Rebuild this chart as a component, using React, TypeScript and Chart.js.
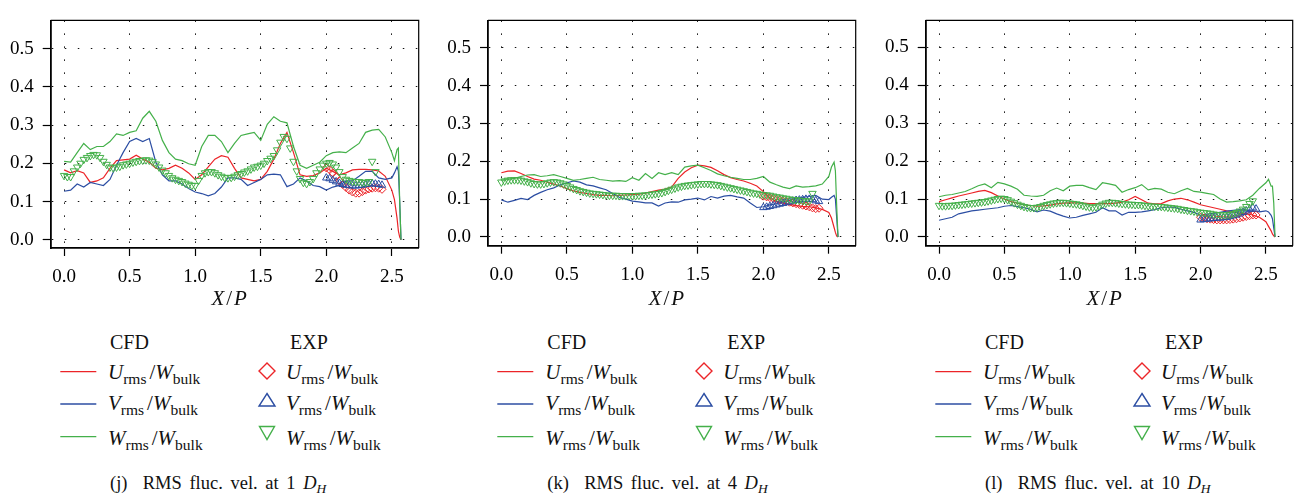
import React, { useEffect, useRef } from "react";
import { Chart, registerables } from "chart.js";

Chart.register(...registerables);

// ---------- shared axes ----------
const X_TICKS = [0, 0.5, 1.0, 1.5, 2.0, 2.5];
const Y_TICKS = [0, 0.1, 0.2, 0.3, 0.4, 0.5];

// x positions of the CFD curves
const X_CFD = [
  0, 0.05, 0.1, 0.15, 0.2, 0.25, 0.3, 0.35, 0.4, 0.45, 0.5, 0.55, 0.6, 0.65, 0.7, 0.75, 0.8, 0.85, 0.9, 0.95,
  1.0, 1.05, 1.1, 1.15, 1.2, 1.25, 1.3, 1.35, 1.4, 1.45, 1.5, 1.55, 1.6, 1.65, 1.7, 1.75, 1.8, 1.85, 1.9, 1.95,
  2.0, 2.05, 2.1, 2.15, 2.2, 2.25, 2.3, 2.35, 2.4, 2.45, 2.5, 2.52, 2.54, 2.55, 2.56, 2.57,
];

// x positions of the EXP W markers
const X_EXP_W = [
  0, 0.025, 0.05, 0.075, 0.1, 0.125, 0.15, 0.175, 0.2, 0.225,
  0.25, 0.275, 0.3, 0.325, 0.35, 0.375, 0.4, 0.425, 0.45, 0.475,
  0.5, 0.525, 0.55, 0.575, 0.6, 0.625, 0.65, 0.675, 0.7, 0.725,
  0.75, 0.775, 0.8, 0.825, 0.85, 0.875, 0.9, 0.925, 0.95, 0.975,
  1.0, 1.025, 1.05, 1.075, 1.1, 1.125, 1.15, 1.175, 1.2, 1.225,
  1.25, 1.275, 1.3, 1.325, 1.35, 1.375, 1.4, 1.425, 1.45, 1.475,
  1.5, 1.525, 1.55, 1.575, 1.6, 1.625, 1.65, 1.675, 1.7, 1.725,
  1.75, 1.775, 1.8, 1.825, 1.85, 1.875, 1.9, 1.925, 1.95, 1.975,
  2.0, 2.025, 2.05, 2.075, 2.1, 2.125, 2.15, 2.175, 2.2, 2.225,
  2.25, 2.275, 2.3, 2.325, 2.35, 2.375, 2.4,
];

// x positions of the EXP U and V markers
const X_EXP_UV = [
  2.0, 2.025, 2.05, 2.075, 2.1, 2.125, 2.15, 2.175, 2.2, 2.225, 2.25, 2.275, 2.3, 2.325, 2.35, 2.375, 2.4, 2.425,
];

// ---------- panel (j): 1 D_H ----------
const J_CFD_U = [
  0.183, 0.175, 0.181, 0.175, 0.15, 0.154, 0.162, 0.187, 0.207, 0.209, 0.211, 0.221, 0.211, 0.203, 0.187, 0.183, 0.187, 0.195, 0.187, 0.175,
  0.158, 0.17, 0.191, 0.211, 0.22, 0.216, 0.187, 0.162, 0.158, 0.154, 0.158, 0.179, 0.211, 0.252, 0.281, 0.228, 0.17, 0.166, 0.168, 0.175,
  0.187, 0.179, 0.17, 0.175, 0.183, 0.184, 0.184, 0.183, 0.18, 0.166, 0.13, 0.105, 0.056, 0.023, 0.007, 0,
];
const J_CFD_V = [
  0.127, 0.13, 0.146, 0.138, 0.15, 0.146, 0.142, 0.158, 0.195, 0.228, 0.257, 0.265, 0.257, 0.265, 0.203, 0.17, 0.154, 0.154, 0.146, 0.134,
  0.125, 0.121, 0.115, 0.121, 0.138, 0.162, 0.162, 0.158, 0.142, 0.15, 0.158, 0.17, 0.172, 0.17, 0.139, 0.146, 0.162, 0.154, 0.142, 0.139,
  0.13, 0.138, 0.142, 0.154, 0.154, 0.166, 0.179, 0.179, 0.162, 0.158, 0.162, 0.175, 0.191, 0.18, 0.1, 0,
];
const J_CFD_W = [
  0.205, 0.203, 0.228, 0.252, 0.236, 0.244, 0.244, 0.257, 0.277, 0.273, 0.281, 0.285, 0.318, 0.336, 0.31, 0.26, 0.228, 0.211, 0.207, 0.199,
  0.195, 0.244, 0.273, 0.273, 0.257, 0.228, 0.252, 0.273, 0.277, 0.281, 0.26, 0.302, 0.322, 0.31, 0.306, 0.244, 0.195, 0.187, 0.195, 0.203,
  0.22, 0.228, 0.23, 0.228, 0.24, 0.252, 0.281, 0.287, 0.289, 0.269, 0.228, 0.207, 0.236, 0.24, 0.1, 0,
];
const J_EXP_U = [0.188, 0.183, 0.175, 0.165, 0.155, 0.145, 0.137, 0.13, 0.125, 0.122, 0.122, 0.126, 0.13, 0.133, 0.135, 0.136, 0.135, 0.132];
const J_EXP_V = [0.162, 0.16, 0.156, 0.152, 0.148, 0.145, 0.143, 0.142, 0.141, 0.141, 0.142, 0.143, 0.145, 0.146, 0.147, 0.146, 0.145, 0.143];
const J_EXP_W = [
  0.168, 0.165, 0.165, 0.18, 0.19, 0.2, 0.21, 0.215, 0.22, 0.223,
  0.222, 0.215, 0.205, 0.197, 0.19, 0.188, 0.19, 0.192, 0.196, 0.198,
  0.2, 0.203, 0.205, 0.207, 0.208, 0.209, 0.208, 0.204, 0.198, 0.19,
  0.182, 0.175, 0.168, 0.162, 0.158, 0.155, 0.152, 0.148, 0.145, 0.142,
  0.142, 0.155, 0.168, 0.175, 0.178, 0.178, 0.175, 0.17, 0.166, 0.163,
  0.162, 0.163, 0.166, 0.17, 0.173, 0.177, 0.18, 0.185, 0.19, 0.192,
  0.195, 0.2, 0.207, 0.213, 0.22, 0.235, 0.255, 0.27, 0.265, 0.24,
  0.205, 0.18, 0.16, 0.15, 0.147, 0.152, 0.16, 0.175, 0.185, 0.195,
  0.2, 0.202, 0.198, 0.19, 0.178, 0.165, 0.158, 0.155, 0.153, 0.152,
  0.152, 0.15, 0.15, 0.152, 0.205, 0.178, null,
];

// ---------- panel (k): 4 D_H ----------
const K_CFD_U = [
  0.17, 0.174, 0.175, 0.168, 0.16, 0.153, 0.15, 0.145, 0.14, 0.135, 0.128, 0.122, 0.118, 0.115, 0.112, 0.11, 0.11, 0.109, 0.11, 0.111,
  0.112, 0.113, 0.116, 0.12, 0.124, 0.127, 0.132, 0.155, 0.172, 0.183, 0.19, 0.188, 0.184, 0.175, 0.165, 0.157, 0.152, 0.148, 0.142, 0.135,
  0.12, 0.103, 0.094, 0.09, 0.086, 0.083, 0.081, 0.08, 0.077, 0.073, 0.065, 0.05, 0.025, 0.012, 0.002, 0,
];
const K_CFD_V = [
  0.098, 0.092, 0.097, 0.102, 0.099, 0.11, 0.118, 0.125, 0.13, 0.138, 0.143, 0.148, 0.145, 0.138, 0.135, 0.13, 0.125, 0.115, 0.105, 0.1,
  0.095, 0.093, 0.09, 0.09, 0.082, 0.09, 0.093, 0.092, 0.098, 0.1, 0.103, 0.098, 0.107, 0.103, 0.108, 0.11, 0.106, 0.103, 0.09, 0.078,
  0.08, 0.085, 0.088, 0.093, 0.097, 0.102, 0.105, 0.107, 0.11, 0.1, 0.099, 0.105, 0.11, 0.1, 0.05, 0,
];
const K_CFD_W = [
  0.15, 0.152, 0.155, 0.16, 0.164, 0.165, 0.16, 0.162, 0.165, 0.16, 0.155, 0.15, 0.152, 0.155, 0.158, 0.152, 0.15, 0.148, 0.149, 0.147,
  0.157, 0.15, 0.168, 0.155, 0.17, 0.165, 0.17, 0.165, 0.185, 0.188, 0.19, 0.183, 0.176, 0.167, 0.162, 0.158, 0.155, 0.152, 0.152, 0.155,
  0.16, 0.145, 0.138, 0.132, 0.128, 0.135, 0.132, 0.133, 0.135, 0.14, 0.16, 0.185, 0.198, 0.175, 0.08, 0,
];
const K_EXP_U = [0.108, 0.106, 0.104, 0.102, 0.1, 0.098, 0.096, 0.094, 0.092, 0.09, 0.088, 0.086, 0.084, 0.082, 0.08, 0.077, 0.075, 0.076];
const K_EXP_V = [0.078, 0.079, 0.081, 0.083, 0.085, 0.087, 0.089, 0.091, 0.093, 0.095, 0.097, 0.098, 0.099, 0.1, 0.1, 0.099, 0.096, 0.094];
const K_EXP_W = [
  0.145, 0.148, 0.15, 0.151, 0.151, 0.151, 0.15, 0.148, 0.146, 0.143,
  0.141, 0.14, 0.14, 0.141, 0.143, 0.145, 0.146, 0.145, 0.143, 0.14,
  0.136, 0.132, 0.128, 0.125, 0.122, 0.12, 0.118, 0.116, 0.115, 0.114,
  0.113, 0.112, 0.111, 0.11, 0.11, 0.11, 0.109, 0.109, 0.109, 0.109,
  0.109, 0.109, 0.11, 0.11, 0.111, 0.112, 0.113, 0.114, 0.115, 0.117,
  0.12, 0.123, 0.126, 0.129, 0.132, 0.134, 0.136, 0.137, 0.138, 0.139,
  0.14, 0.141, 0.141, 0.141, 0.14, 0.139, 0.138, 0.136, 0.134, 0.132,
  0.13, 0.128, 0.126, 0.124, 0.122, 0.12, 0.118, 0.116, 0.115, 0.113,
  0.112, 0.111, 0.11, 0.108, 0.106, 0.105, 0.103, 0.102, 0.1, 0.099,
  0.098, 0.097, 0.096, 0.095, 0.095, 0.115, null,
];

// ---------- panel (l): 10 D_H ----------
const L_CFD_U = [
  0.093, 0.098, 0.103, 0.108, 0.112, 0.116, 0.12, 0.123, 0.117, 0.108, 0.1, 0.093, 0.089, 0.085, 0.083, 0.081, 0.082, 0.084, 0.087, 0.089,
  0.09, 0.09, 0.089, 0.088, 0.088, 0.088, 0.088, 0.089, 0.092, 0.098, 0.107, 0.098, 0.089, 0.087, 0.088, 0.095, 0.1, 0.102, 0.098, 0.092,
  0.085, 0.081, 0.077, 0.073, 0.069, 0.066, 0.063, 0.061, 0.058, 0.052, 0.04, 0.028, 0.016, 0.008, 0.003, 0,
];
const L_CFD_V = [
  0.044, 0.048, 0.052, 0.061, 0.065, 0.069, 0.071, 0.073, 0.075, 0.077, 0.081, 0.083, 0.08, 0.077, 0.073, 0.066, 0.071, 0.068, 0.061, 0.055,
  0.05, 0.052, 0.057, 0.061, 0.065, 0.077, 0.069, 0.069, 0.058, 0.065, 0.065, 0.066, 0.069, 0.072, 0.077, 0.079, 0.078, 0.073, 0.069, 0.065,
  0.057, 0.06, 0.062, 0.065, 0.068, 0.07, 0.072, 0.07, 0.068, 0.066, 0.069, 0.066, 0.057, 0.048, 0.024, 0,
];
const L_CFD_W = [
  0.106, 0.11, 0.112, 0.116, 0.12, 0.127, 0.135, 0.14, 0.13, 0.144, 0.14, 0.134, 0.126, 0.11, 0.108, 0.107, 0.11, 0.122, 0.129, 0.122,
  0.134, 0.136, 0.136, 0.13, 0.125, 0.143, 0.14, 0.136, 0.118, 0.125, 0.13, 0.138, 0.124, 0.128, 0.126, 0.118, 0.114, 0.122, 0.128, 0.12,
  0.118, 0.115, 0.112, 0.1, 0.092, 0.093, 0.095, 0.098, 0.11, 0.128, 0.143, 0.152, 0.134, 0.134, 0.09, 0,
];
const L_EXP_U = [0.052, 0.05, 0.048, 0.047, 0.046, 0.045, 0.045, 0.045, 0.045, 0.046, 0.047, 0.048, 0.05, 0.052, 0.054, 0.056, 0.058, 0.058];
const L_EXP_V = [0.045, 0.046, 0.047, 0.048, 0.049, 0.05, 0.05, 0.051, 0.052, 0.054, 0.056, 0.058, 0.061, 0.065, 0.069, 0.073, 0.077, 0.074];
const L_EXP_W = [
  0.083, 0.082, 0.082, 0.083, 0.083, 0.084, 0.085, 0.086, 0.087, 0.088,
  0.089, 0.09, 0.091, 0.092, 0.093, 0.095, 0.097, 0.099, 0.101, 0.102,
  0.101, 0.098, 0.094, 0.09, 0.086, 0.083, 0.08, 0.078, 0.077, 0.077,
  0.078, 0.08, 0.083, 0.085, 0.087, 0.089, 0.09, 0.091, 0.091, 0.09,
  0.089, 0.088, 0.087, 0.085, 0.083, 0.081, 0.079, 0.078, 0.079, 0.082,
  0.086, 0.089, 0.091, 0.091, 0.09, 0.089, 0.088, 0.087, 0.086, 0.086,
  0.085, 0.085, 0.084, 0.083, 0.082, 0.081, 0.081, 0.08, 0.08, 0.079,
  0.078, 0.077, 0.076, 0.075, 0.073, 0.072, 0.07, 0.069, 0.068, 0.066,
  0.065, 0.064, 0.063, 0.062, 0.06, 0.059, 0.058, 0.058, 0.058, 0.059,
  0.061, 0.064, 0.068, 0.073, 0.08, 0.088, 0.095,
];

// ---------- styling ----------
const RED = "#ec2428";
const BLUE = "#2c4ea3";
const GREEN = "#44b04a";
const SERIF = "'Liberation Serif', 'Times New Roman', serif";

type PanelGeom = {
  canvasLeft: number;
  areaLeft: number;
  areaRight: number;
  areaTop: number;
  areaBottom: number;
  yMin: number;
  yMax: number;
  letter: string;
  dist: string;
  cfd: (number | null)[][];
  exp: (number | null)[][];
};

const CANVAS_H = 290;
const X_MIN = -0.102;
const X_MAX = 2.705;

const PANELS: PanelGeom[] = [
  {
    canvasLeft: 0, areaLeft: 50.7, areaRight: 421.7, areaTop: 6, areaBottom: 248,
    yMin: -0.0214, yMax: 0.5738, letter: "(j)", dist: "1",
    cfd: [J_CFD_U, J_CFD_V, J_CFD_W], exp: [J_EXP_U, J_EXP_V, J_EXP_W],
  },
  {
    canvasLeft: 437, areaLeft: 488, areaRight: 859, areaTop: 3.3, areaBottom: 245.7,
    yMin: -0.0231, yMax: 0.573, letter: "(k)", dist: "4",
    cfd: [K_CFD_U, K_CFD_V, K_CFD_W], exp: [K_EXP_U, K_EXP_V, K_EXP_W],
  },
  {
    canvasLeft: 875, areaLeft: 925.7, areaRight: 1296, areaTop: 4, areaBottom: 245.7,
    yMin: -0.0231, yMax: 0.5713, letter: "(l)", dist: "10",
    cfd: [L_CFD_U, L_CFD_V, L_CFD_W], exp: [L_EXP_U, L_EXP_V, L_EXP_W],
  },
];

function pts(xs: number[], ys: (number | null)[]) {
  return xs.map((x, i) => ({ x, y: ys[i] }));
}

const boxPlugin = {
  id: "boxFrame",
  afterDraw(chart: any) {
    const { ctx, chartArea } = chart;
    ctx.save();
    ctx.strokeStyle = "#000";
    ctx.lineWidth = 1.2;
    ctx.setLineDash([]);
    ctx.beginPath();
    ctx.moveTo(chartArea.left, chartArea.top);
    ctx.lineTo(chartArea.right, chartArea.top);
    ctx.lineTo(chartArea.right, chartArea.bottom);
    ctx.stroke();
    ctx.restore();
  },
};

function PanelChart({ g }: { g: PanelGeom }) {
  const ref = useRef<HTMLCanvasElement>(null);
  const width = Math.round(g.areaRight + 2.3 - g.canvasLeft);
  useEffect(() => {
    const colors = [RED, BLUE, GREEN];
    const lineSets = g.cfd.map((ys, i) => ({
      data: pts(X_CFD, ys),
      showLine: true,
      borderColor: colors[i],
      borderWidth: 1.2,
      pointRadius: 0,
      fill: false,
      tension: 0,
      order: 5 - i,
    }));
    const markerSets = [
      { data: pts(X_EXP_UV, g.exp[0]), pointStyle: "rectRot", pointRadius: 4, pointRotation: 0, color: RED, order: 2 },
      { data: pts(X_EXP_UV, g.exp[1]), pointStyle: "triangle", pointRadius: 4.3, pointRotation: 0, color: BLUE, order: 1 },
      { data: pts(X_EXP_W, g.exp[2]), pointStyle: "triangle", pointRadius: 4.3, pointRotation: 180, color: GREEN, order: 0 },
    ].map((m) => ({
      data: m.data,
      showLine: false,
      pointStyle: m.pointStyle,
      pointRadius: m.pointRadius,
      pointRotation: m.pointRotation,
      pointBorderColor: m.color,
      pointBackgroundColor: "rgba(255,255,255,0)",
      pointBorderWidth: 1,
      borderColor: m.color,
      backgroundColor: "rgba(255,255,255,0)",
      order: m.order,
    }));
    const tickFont = { family: SERIF, size: 19 };
    const gridBase = {
      color: "#111",
      lineWidth: 1,
      tickBorderDash: [],
      tickLength: 8,
      tickColor: "#000",
      tickWidth: 1.2,
    };
    const borderBase = { display: true, color: "#000", width: 1.8, dash: [1.5, 11.5] };
    const chart = new Chart(ref.current as HTMLCanvasElement, {
      type: "scatter",
      data: { datasets: [...lineSets, ...markerSets] as any },
      options: {
        animation: false,
        responsive: false,
        devicePixelRatio: 1,
        events: [],
        layout: {
          padding: { left: 0, top: g.areaTop, right: g.canvasLeft + width - g.areaRight, bottom: 0 },
        },
        plugins: { legend: { display: false }, tooltip: { enabled: false } },
        scales: {
          x: {
            type: "linear",
            min: X_MIN,
            max: X_MAX,
            afterBuildTicks: (s: any) => {
              s.ticks = X_TICKS.map((v) => ({ value: v }));
            },
            afterFit: (s: any) => {
              s.height = CANVAS_H - g.areaBottom;
            },
            ticks: {
              font: tickFont,
              color: "#000",
              padding: 10,
              maxRotation: 0,
              autoSkip: false,
              callback: (v: any) => Number(v).toFixed(1),
            },
            grid: gridBase,
            border: borderBase,
          },
          y: {
            type: "linear",
            min: g.yMin,
            max: g.yMax,
            afterBuildTicks: (s: any) => {
              s.ticks = Y_TICKS.map((v) => ({ value: v }));
            },
            afterFit: (s: any) => {
              s.width = g.areaLeft - g.canvasLeft;
            },
            ticks: {
              font: tickFont,
              color: "#000",
              padding: 9,
              autoSkip: false,
              callback: (v: any) => Number(v).toFixed(1),
            },
            grid: gridBase,
            border: borderBase,
          },
        },
      } as any,
      plugins: [boxPlugin],
    });
    let alive = true;
    const fonts = (document as any).fonts;
    if (fonts && fonts.load) {
      fonts
        .load("19px 'Liberation Serif'")
        .then(() => {
          if (alive) chart.update();
        })
        .catch(() => {});
    }
    return () => {
      alive = false;
      chart.destroy();
    };
  }, []);
  return (
    <canvas
      ref={ref}
      width={width}
      height={CANVAS_H}
      style={{ position: "absolute", left: g.canvasLeft, top: 0, width, height: CANVAS_H }}
    />
  );
}

function Txt({ x, base, size, italic, center, children }: any) {
  return (
    <div
      style={{
        position: "absolute",
        left: x,
        top: base - 0.8375 * size,
        fontSize: size,
        lineHeight: `${size}px`,
        fontFamily: SERIF,
        fontStyle: italic ? "italic" : "normal",
        whiteSpace: "nowrap",
        color: "#111",
        transform: center ? "translateX(-50%)" : undefined,
      }}
    >
      {children}
    </div>
  );
}

const subStyle: React.CSSProperties = { fontSize: 15.5, verticalAlign: "-5px", lineHeight: 0, fontStyle: "normal" };

function Ratio({ v }: { v: string }) {
  return (
    <>
      <i>{v}</i>
      <span style={subStyle}>rms</span>
      <span style={{ marginLeft: 3 }}>/</span>
      <i>W</i>
      <span style={subStyle}>bulk</span>
    </>
  );
}

function Legend({ g }: { g: PanelGeom }) {
  const a = g.areaLeft;
  const rowsLine = [371.7, 404, 436.7];
  const rowsBase = [380, 411, 446];
  const cols = [RED, BLUE, GREEN];
  const letters = ["U", "V", "W"];
  const mx = a + 216;
  return (
    <>
      <Txt x={a + 59.3} base={349} size={20}>CFD</Txt>
      <Txt x={a + 239.3} base={349} size={20}>EXP</Txt>
      <svg
        width={300}
        height={110}
        style={{ position: "absolute", left: a, top: 350 }}
        viewBox={`${a} 350 300 110`}
      >
        {rowsLine.map((y, i) => (
          <line key={i} x1={a + 9.3} x2={a + 45.3} y1={y} y2={y} stroke={cols[i]} strokeWidth={1.3} />
        ))}
        <polygon
          points={`${mx},363 ${mx + 8},371 ${mx},379 ${mx - 8},371`}
          fill="none"
          stroke={RED}
          strokeWidth={1.4}
        />
        <polygon
          points={`${mx},393.5 ${mx + 8},406 ${mx - 8},406`}
          fill="none"
          stroke={BLUE}
          strokeWidth={1.4}
        />
        <polygon
          points={`${mx - 7.5},426.5 ${mx + 7.5},426.5 ${mx},439.5`}
          fill="none"
          stroke={GREEN}
          strokeWidth={1.4}
        />
      </svg>
      {letters.map((l, i) => (
        <Txt key={"c" + l} x={a + 57.3} base={rowsBase[i]} size={21}>
          <Ratio v={l} />
        </Txt>
      ))}
      {letters.map((l, i) => (
        <Txt key={"e" + l} x={a + 235.3} base={rowsBase[i]} size={21}>
          <Ratio v={l} />
        </Txt>
      ))}
      <Txt x={a + 13.3 + 1.25 * 132.1} base={306} size={21} italic center>
        X<span style={{ fontStyle: "normal", margin: "0 2px" }}>/</span>P
      </Txt>
      <Txt x={a + 59.3} base={489} size={18.5}>
        <span style={{ wordSpacing: 3 }}>
          {g.letter}&nbsp;&nbsp;RMS fluc. vel. at {g.dist}{" "}
        </span>
        <i>D</i>
        <span style={{ fontSize: 13.5, verticalAlign: "-4px", lineHeight: 0, fontStyle: "italic" }}>H</span>
      </Txt>
    </>
  );
}

export default function App() {
  return (
    <div
      style={{
        position: "absolute",
        left: 0,
        top: 0,
        width: 1300,
        height: 498,
        background: "#fff",
        overflow: "hidden",
      }}
    >
      {PANELS.map((g, i) => (
        <PanelChart key={i} g={g} />
      ))}
      {PANELS.map((g, i) => (
        <Legend key={"l" + i} g={g} />
      ))}
    </div>
  );
}
